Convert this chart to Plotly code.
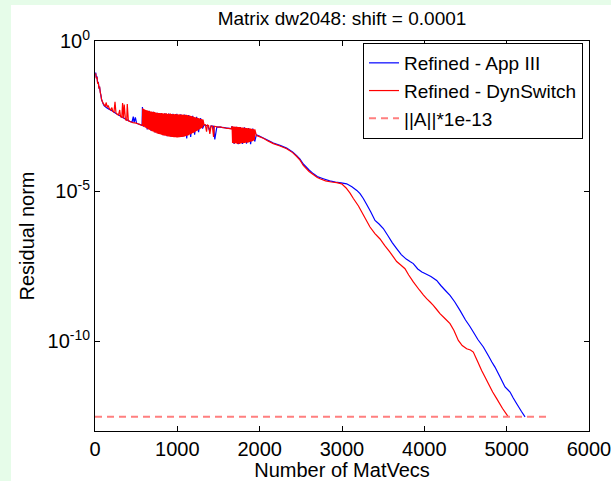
import plotly.graph_objects as go

# ---- data (log10 of residual norm) ----
blue_x = [8, 16, 24, 32, 40, 48, 56, 64, 72, 80, 90, 100,
          110, 130, 150, 170, 190, 210, 230, 250, 270, 290, 310, 330, 350, 370, 390, 410, 430, 450, 465, 475, 490, 505, 520, 540, 560, 572,
          576, 590, 610, 634, 658, 682, 706, 730, 754, 778, 802, 826, 850, 874, 898, 922, 946, 970, 994, 1018, 1042, 1066, 1090, 1114, 1138, 1162, 1186, 1210, 1234, 1258, 1282, 1306,
          1325, 1345, 1370, 1390, 1410, 1440, 1455, 1480, 1510, 1540, 1570, 1600, 1630, 1655,
          1665, 1690, 1715, 1740, 1765, 1790, 1815, 1840, 1865, 1890, 1915, 1940,
          1960, 1990, 2050, 2100, 2166, 2247, 2328, 2400, 2450, 2490, 2530, 2600, 2650, 2700, 2773, 2850, 2920, 2990, 3057, 3120, 3180, 3219, 3259, 3300, 3350, 3401, 3450, 3502, 3560, 3610, 3664, 3720, 3780, 3830, 3866, 3920, 3970, 4008, 4080, 4150, 4200, 4250, 4312, 4370, 4433, 4500, 4550, 4595, 4650, 4717, 4780, 4820, 4858, 4920, 4980, 5041, 5080, 5122, 5180, 5223]
blue_log = [-1.05, -1.22, -1.18, -1.40, -1.36, -1.56, -1.55, -1.70, -1.82, -1.95, -2.03, -2.10,
            -2.15, -2.20, -2.24, -2.27, -2.30, -2.33, -2.37, -2.41, -2.44, -2.47, -2.50, -2.53, -2.57, -2.60, -2.63, -2.66, -2.69, -2.70, -2.52, -2.72, -2.55, -2.74, -2.76, -2.78, -2.80, -2.82,
            -2.20, -2.86, -2.30, -2.95, -2.33, -3.00, -2.36, -3.05, -2.39, -3.10, -2.40, -3.14, -2.41, -3.17, -2.42, -3.19, -2.43, -3.20, -2.43, -3.20, -2.44, -3.19, -2.45, -3.25, -2.47, -3.20, -2.49, -3.12, -2.53, -3.04, -2.57, -2.92,
            -2.80, -2.81, -2.82, -2.98, -2.83, -2.84, -3.28, -2.86, -2.87, -2.88, -2.89, -2.90, -2.91, -2.92,
            -2.84, -3.43, -2.86, -3.44, -2.87, -3.43, -2.88, -3.42, -2.90, -3.44, -2.92, -3.35,
            -3.13, -3.16, -3.24, -3.31, -3.40, -3.48, -3.57, -3.70, -3.82, -3.94, -4.10, -4.30, -4.42, -4.52, -4.59, -4.66, -4.70, -4.73, -4.76, -4.86, -4.98, -5.09, -5.25, -5.45, -5.70, -5.98, -6.10, -6.25, -6.50, -6.72, -6.92, -7.12, -7.27, -7.36, -7.42, -7.60, -7.70, -7.75, -7.85, -7.98, -8.15, -8.30, -8.48, -8.70, -8.98, -9.30, -9.50, -9.70, -9.95, -10.20, -10.50, -10.70, -10.87, -11.20, -11.53, -11.70, -11.90, -12.09, -12.35, -12.53]

# red series, in consecutive pieces
red_x_start = [8, 16, 24, 32, 40, 48, 56, 64, 72, 80, 90, 100,
               110, 125, 135, 150, 160, 175, 190, 205, 215, 230, 243, 255, 270, 285, 300, 310, 325, 335, 345, 355, 370, 385, 392, 405, 420, 440, 460, 480, 500, 520, 540, 560, 575]
red_log_start = [-1.08, -1.25, -1.20, -1.42, -1.38, -1.58, -1.52, -1.72, -1.80, -1.96, -2.02, -2.08,
                 -2.12, -2.18, -2.05, -2.22, -2.15, -2.26, -2.30, -2.22, -2.34, -2.38, -2.03, -2.40, -2.44, -2.47, -2.30, -2.52, -2.55, -2.07, -2.58, -2.12, -2.62, -2.65, -2.10, -2.66, -2.68, -2.70, -2.72, -2.73, -2.74, -2.76, -2.78, -2.80, -2.82]

red_x_band1 = [580, 586, 592, 598, 604, 610, 616, 622, 628, 634, 640, 646, 652, 658, 664, 670, 676, 682, 688, 694,
               700, 706, 712, 718, 724, 730, 736, 742, 748, 754, 760, 766, 772, 778, 784, 790, 796, 802, 808, 814,
               820, 826, 832, 838, 844, 850, 856, 862, 868, 874, 880, 886, 892, 898, 904, 910, 916, 922, 928, 934,
               940, 946, 952, 958, 964, 970, 976, 982, 988, 994, 1000, 1006, 1012, 1018, 1024, 1030, 1036, 1042, 1048, 1054,
               1060, 1066, 1072, 1078, 1084, 1090, 1096, 1102, 1108, 1114, 1120, 1126, 1132, 1138, 1144, 1150, 1156, 1162, 1168, 1174,
               1180, 1186, 1192, 1198, 1204, 1210, 1216, 1222, 1228, 1234, 1240, 1246, 1252, 1258, 1264, 1270, 1276, 1282, 1288, 1294,
               1300, 1306, 1312]
red_log_band1 = [-2.24, -2.83, -2.27, -2.86, -2.28, -2.88, -2.30, -2.90, -2.31, -2.92, -2.32, -2.94, -2.33, -2.96, -2.34, -2.97, -2.35, -2.99, -2.35, -3.01,
                 -2.37, -3.02, -2.36, -3.04, -2.37, -3.05, -2.38, -3.06, -2.39, -3.08, -2.39, -3.09, -2.40, -3.10, -2.40, -3.11, -2.41, -3.12, -2.40, -3.13,
                 -2.41, -3.14, -2.42, -3.15, -2.41, -3.16, -2.42, -3.16, -2.41, -3.17, -2.43, -3.18, -2.42, -3.18, -2.43, -3.19, -2.42, -3.19, -2.43, -3.20,
                 -2.44, -3.20, -2.43, -3.21, -2.44, -3.21, -2.43, -3.21, -2.44, -3.22, -2.44, -3.22, -2.45, -3.21, -2.44, -3.21, -2.45, -3.20, -2.45, -3.20,
                 -2.46, -3.19, -2.45, -3.19, -2.46, -3.18, -2.47, -3.17, -2.46, -3.16, -2.47, -3.15, -2.48, -3.14, -2.48, -3.12, -2.49, -3.11, -2.50, -3.09,
                 -2.51, -3.07, -2.52, -3.06, -2.53, -3.04, -2.54, -3.02, -2.55, -3.00, -2.56, -2.98, -2.57, -2.96, -2.58, -2.94, -2.59, -2.92, -2.60, -2.90,
                 -2.61, -2.88, -2.62]

red_x_mid = [1325, 1340, 1355, 1365, 1380, 1395, 1410, 1425, 1440, 1450, 1465, 1480, 1500, 1520, 1540, 1560, 1580, 1600, 1620, 1640, 1655]
red_log_mid = [-2.80, -2.79, -3.02, -2.80, -2.82, -3.10, -2.83, -2.84, -3.20, -2.84, -2.85, -2.86, -2.87, -2.86, -2.88, -2.89, -2.90, -2.91, -2.91, -2.92, -2.93]

red_x_band2 = [1665, 1671, 1677, 1683, 1689, 1695, 1701, 1707, 1713, 1719, 1725, 1731, 1737, 1743, 1749, 1755, 1761, 1767, 1773, 1779,
               1785, 1791, 1797, 1803, 1809, 1815, 1821, 1827, 1833, 1839, 1845, 1851, 1857, 1863, 1869, 1875, 1881, 1887, 1893, 1899,
               1905, 1911, 1917, 1923, 1929, 1935, 1941]
red_log_band2 = [-2.84, -3.40, -2.85, -3.41, -2.85, -3.42, -2.86, -3.41, -2.86, -3.42, -2.86, -3.43, -2.87, -3.42, -2.87, -3.43, -2.87, -3.42, -2.88, -3.41,
                 -2.88, -3.40, -2.88, -3.41, -2.89, -3.40, -2.89, -3.39, -2.90, -3.38, -2.90, -3.39, -2.91, -3.38, -2.91, -3.37, -2.92, -3.36, -2.92, -3.35,
                 -2.93, -3.34, -2.93, -3.32, -2.94, -3.30, -2.95]

red_x_tail = [1960, 1990, 2050, 2100, 2166, 2247, 2328, 2400, 2450, 2490, 2530, 2600, 2650, 2700, 2733, 2800, 2870, 2935, 2996, 3050, 3100, 3138, 3200, 3240, 3280, 3340, 3400, 3462, 3520, 3580, 3630, 3664, 3710, 3765, 3810, 3866, 3940, 3990, 4028, 4070, 4109, 4150, 4190, 4250, 4312, 4360, 4413, 4460, 4514, 4560, 4595, 4650, 4696, 4740, 4777, 4830, 4879, 4950, 5020]
red_log_tail = [-3.15, -3.18, -3.25, -3.33, -3.42, -3.50, -3.59, -3.72, -3.85, -3.97, -4.15, -4.35, -4.45, -4.55, -4.59, -4.66, -4.70, -4.72, -4.76, -4.90, -5.08, -5.25, -5.50, -5.70, -5.90, -6.20, -6.42, -6.60, -6.82, -7.03, -7.22, -7.35, -7.46, -7.59, -7.80, -8.03, -8.30, -8.47, -8.59, -8.70, -8.81, -8.95, -9.09, -9.25, -9.42, -9.65, -9.98, -10.15, -10.26, -10.30, -10.37, -10.70, -10.98, -11.22, -11.42, -11.70, -11.92, -12.25, -12.53]

red_x = red_x_start + red_x_band1 + red_x_mid + red_x_band2 + red_x_tail
red_log = red_log_start + red_log_band1 + red_log_mid + red_log_band2 + red_log_tail

tol_x = [0, 5500]
tol_y = [3.0e-13, 3.0e-13]

x_ticks = [0, 1000, 2000, 3000, 4000, 5000, 6000]
y_ticks = [1, 1e-5, 1e-10]
y_tick_text = ["10<sup>0</sup>", "10<sup>-5</sup>", "10<sup>-10</sup>"]

FONT = "Liberation Sans, Arial, Helvetica, sans-serif"
GREEN = "#e6fce9"

fig = go.Figure()
fig.add_trace(go.Scatter(x=blue_x, y=[10 ** v for v in blue_log], mode="lines",
                         name="Refined - App III",
                         line=dict(color="#0000ff", width=1.2, simplify=False)))
fig.add_trace(go.Scatter(x=red_x, y=[10 ** v for v in red_log], mode="lines",
                         name="Refined - DynSwitch",
                         line=dict(color="#ff0000", width=1.2, simplify=False)))
fig.add_trace(go.Scatter(x=tol_x, y=tol_y, mode="lines", name="||A||*1e-13",
                         line=dict(color="#ff7f7f", width=2, dash="7px,5px")))

L, R, T, B = 95, 22, 41, 50
W, H = 611, 481
pw, ph = W - L - R, H - T - B

fig.update_layout(
    template="none",
    width=W, height=H, autosize=False,
    margin=dict(l=L, r=R, t=T, b=B, pad=0, autoexpand=False),
    paper_bgcolor="white", plot_bgcolor="white",
    font=dict(family=FONT, size=20, color="black"),
    title=dict(text="Matrix dw2048: shift = 0.0001", x=(L + 0.5 * pw) / W, xanchor="center",
               y=1 - 18 / H, yanchor="middle", yref="container",
               font=dict(family=FONT, size=19, color="black")),
    showlegend=True,
    legend=dict(x=(583 - L) / pw, xanchor="right", y=(H - B - 43) / ph, yanchor="top",
                bgcolor="white", bordercolor="black", borderwidth=1,
                font=dict(family=FONT, size=19, color="black"), tracegroupgap=0),
    shapes=[
        dict(type="rect", xref="paper", yref="paper", layer="below",
             x0=-1, x1=(11 - L) / pw, y0=-1, y1=2, fillcolor=GREEN, line=dict(width=0)),
        dict(type="rect", xref="paper", yref="paper", layer="below",
             x0=-1, x1=2, y0=(H - B - 5) / ph, y1=2, fillcolor=GREEN, line=dict(width=0)),
    ],
)
fig.update_xaxes(range=[0, 6000], tickvals=x_ticks, ticks="inside", ticklen=5, tickcolor="black",
                 showline=True, linecolor="black", linewidth=1, mirror="ticks", showgrid=False,
                 zeroline=False, automargin=False, ticklabeloverflow="allow", tickfont=dict(size=20),
                 title=dict(text="Number of MatVecs", font=dict(size=20), standoff=2))
fig.update_yaxes(type="log", range=[-13, 0], tickvals=y_ticks, ticktext=y_tick_text,
                 ticks="inside", ticklen=5, tickcolor="black",
                 showline=True, linecolor="black", linewidth=1, mirror="ticks", showgrid=False,
                 zeroline=False, automargin=False, ticklabeloverflow="allow", tickfont=dict(size=20),
                 title=dict(text="Residual norm", font=dict(size=20), standoff=7))

fig.write_html(
    "out.html",
    post_script="document.documentElement.style.overflow='hidden';document.body.style.overflow='hidden';document.body.style.margin='0';",
)
